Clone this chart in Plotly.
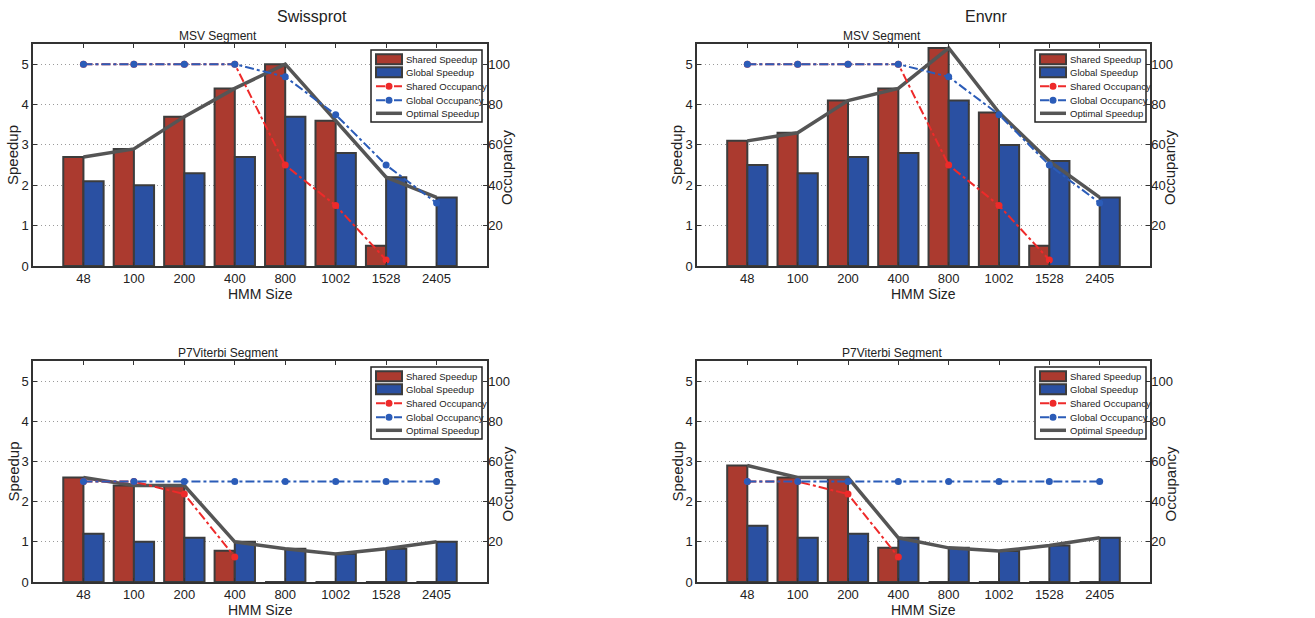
import plotly.graph_objects as go

hmm_sizes = ["48", "100", "200", "400", "800", "1002", "1528", "2405"]

# Swissprot - MSV Segment
sw_msv_shared = [2.7, 2.9, 3.7, 4.4, 5.0, 3.6, 0.5, None]
sw_msv_global = [2.1, 2.0, 2.3, 2.7, 3.7, 2.8, 2.2, 1.7]
sw_msv_optimal = [2.7, 2.9, 3.7, 4.4, 5.0, 3.6, 2.2, 1.7]
sw_msv_shared_occ = [100, 100, 100, 100, 50, 30, 3, None]
sw_msv_global_occ = [100, 100, 100, 100, 93.75, 75, 50, 31.25]

# Envnr - MSV Segment
en_msv_shared = [3.1, 3.3, 4.1, 4.4, 5.4, 3.8, 0.5, None]
en_msv_global = [2.5, 2.3, 2.7, 2.8, 4.1, 3.0, 2.6, 1.7]
en_msv_optimal = [3.1, 3.3, 4.1, 4.4, 5.4, 3.8, 2.6, 1.7]
en_msv_shared_occ = [100, 100, 100, 100, 50, 30, 3, None]
en_msv_global_occ = [100, 100, 100, 100, 93.75, 75, 50, 31.25]

# Swissprot - P7Viterbi Segment
sw_vit_shared = [2.6, 2.4, 2.4, 0.78, 0, 0, 0, 0]
sw_vit_global = [1.2, 1.0, 1.1, 1.0, 0.83, 0.7, 0.83, 1.0]
sw_vit_optimal = [2.6, 2.4, 2.4, 1.0, 0.83, 0.7, 0.83, 1.0]
sw_vit_shared_occ = [50, 50, 43.75, 12.5, None, None, None, None]
sw_vit_global_occ = [50, 50, 50, 50, 50, 50, 50, 50]

# Envnr - P7Viterbi Segment
en_vit_shared = [2.9, 2.6, 2.6, 0.85, 0, 0, 0, 0]
en_vit_global = [1.4, 1.1, 1.2, 1.1, 0.85, 0.77, 0.91, 1.1]
en_vit_optimal = [2.9, 2.6, 2.6, 1.1, 0.85, 0.77, 0.91, 1.1]
en_vit_shared_occ = [50, 50, 43.75, 12.5, None, None, None, None]
en_vit_global_occ = [50, 50, 50, 50, 50, 50, 50, 50]

speedup_ticks = [0, 1, 2, 3, 4, 5]
occupancy_ticks = [20, 40, 60, 80, 100]
legend_labels = ["Shared Speedup", "Global Speedup", "Shared Occupancy",
                 "Global Occupancy", "Optimal Speedup"]

W, H = 1315, 618
FONT = "Liberation Sans, Arial, sans-serif"

RED_BAR = "#AB3A2F"
BLUE_BAR = "#2A50A2"
OUTLINE = "#3c3c3c"
RED_LINE = "#EE2A2A"
BLUE_LINE = "#2B5CB8"
OPT = "#555555"
AX = "#333333"


def px(x):
    return x / W


def py(y):
    return 1 - y / H


panels = [
    dict(shared=sw_msv_shared, glob=sw_msv_global, opt=sw_msv_optimal,
         socc=sw_msv_shared_occ, gocc=sw_msv_global_occ,
         xd=(33, 487), yd=(44, 266), title="MSV Segment", tx=218, ty=36),
    dict(shared=en_msv_shared, glob=en_msv_global, opt=en_msv_optimal,
         socc=en_msv_shared_occ, gocc=en_msv_global_occ,
         xd=(697, 1150), yd=(44, 266), title="MSV Segment", tx=882, ty=36),
    dict(shared=sw_vit_shared, glob=sw_vit_global, opt=sw_vit_optimal,
         socc=sw_vit_shared_occ, gocc=sw_vit_global_occ,
         xd=(33, 487), yd=(361, 582), title="P7Viterbi Segment", tx=228, ty=353),
    dict(shared=en_vit_shared, glob=en_vit_global, opt=en_vit_optimal,
         socc=en_vit_shared_occ, gocc=en_vit_global_occ,
         xd=(697, 1150), yd=(361, 582), title="P7Viterbi Segment", tx=892, ty=353),
]

fig = go.Figure()
layout = dict(
    template="none",
    width=W, height=H,
    margin=dict(l=0, r=0, t=0, b=0, autoexpand=False),
    paper_bgcolor="white", plot_bgcolor="white",
    barmode="group", bargap=0.2, bargroupgap=0.0,
    showlegend=False,
    font=dict(family=FONT, size=13, color="#222"),
)
shapes = []
annotations = []


def ann(text, x, y, size, angle=0, xref="paper", yref="paper", xanchor="center",
        family=FONT):
    return dict(text=text, x=x, y=y, xref=xref, yref=yref, showarrow=False,
                xanchor=xanchor, yanchor="middle", textangle=angle,
                font=dict(family=family, size=size, color="#222"))


for i, p in enumerate(panels):
    k = i + 1
    xa = "x" if k == 1 else f"x{k}"
    yl = 2 * k - 1
    yr = 2 * k
    yla = "y" if yl == 1 else f"y{yl}"
    yra = f"y{yr}"
    xkey = "xaxis" if k == 1 else f"xaxis{k}"
    ylkey = "yaxis" if yl == 1 else f"yaxis{yl}"
    yrkey = f"yaxis{yr}"

    fig.add_trace(go.Bar(x=hmm_sizes, y=p["shared"], xaxis=xa, yaxis=yla,
                         marker=dict(color=RED_BAR, line=dict(color=OUTLINE, width=2)),
                         name=legend_labels[0]))
    fig.add_trace(go.Bar(x=hmm_sizes, y=p["glob"], xaxis=xa, yaxis=yla,
                         marker=dict(color=BLUE_BAR, line=dict(color=OUTLINE, width=2)),
                         name=legend_labels[1]))
    fig.add_trace(go.Scatter(x=hmm_sizes, y=p["opt"], xaxis=xa, yaxis=yla, mode="lines",
                             line=dict(color=OPT, width=3.5), name=legend_labels[4]))
    fig.add_trace(go.Scatter(x=hmm_sizes, y=p["socc"], xaxis=xa, yaxis=yra,
                             mode="lines+markers",
                             line=dict(color=RED_LINE, width=2, dash="dashdot"),
                             marker=dict(color=RED_LINE, size=7),
                             name=legend_labels[2]))
    fig.add_trace(go.Scatter(x=hmm_sizes, y=p["gocc"], xaxis=xa, yaxis=yra,
                             mode="lines+markers",
                             line=dict(color=BLUE_LINE, width=2, dash="dashdot"),
                             marker=dict(color=BLUE_LINE, size=7),
                             name=legend_labels[3]))

    xd = [px(p["xd"][0]), px(p["xd"][1])]
    yd = [py(p["yd"][1]), py(p["yd"][0])]
    layout[xkey] = dict(domain=xd, anchor=yla, type="category", automargin=False,
                        categoryorder="array", categoryarray=hmm_sizes,
                        range=[-1, len(hmm_sizes)],
                        showline=True, linecolor=AX, linewidth=1.5, mirror="ticks",
                        ticks="inside", ticklen=4, tickcolor=AX, tickwidth=1,
                        showgrid=False, zeroline=False,
                        tickfont=dict(size=13, color="#222"))
    layout[ylkey] = dict(domain=yd, anchor=xa, range=[0, 5.5], tickvals=speedup_ticks,
                         automargin=False,
                         showline=True, linecolor=AX, linewidth=1.5,
                         ticks="inside", ticklen=4, tickcolor=AX,
                         showgrid=True, gridcolor="#9a9a9a", griddash="1px,3px",
                         gridwidth=1,
                         zeroline=False, tickfont=dict(size=13, color="#222"))
    layout[yrkey] = dict(overlaying=yla, anchor=xa, side="right", range=[0, 110],
                         tickvals=occupancy_ticks, automargin=False,
                         showline=True, linecolor=AX, linewidth=1.5,
                         ticks="inside", ticklen=4, tickcolor=AX,
                         ticklabelstandoff=-3,
                         showgrid=False, zeroline=False,
                         tickfont=dict(size=13, color="#222"))

    # axis titles and panel title
    x0, x1 = p["xd"]
    y0, y1 = p["yd"]
    annotations.append(ann(p["title"], px(p["tx"]), py(p["ty"]), 12))
    annotations.append(ann("HMM Size", px((x0 + x1) / 2), py(y1 + 28), 14))
    annotations.append(ann("Speedup", px(x0 - 20), py((y0 + y1) / 2), 15, angle=-90))
    annotations.append(ann("Occupancy", px(x1 + 20), py((y0 + y1) / 2 + 12), 15, angle=-90))

    # legend box (drawn in the axes' domain coordinates)
    xr = f"{xa} domain"
    yr_ = f"{yla} domain"
    pw = x1 - x0
    ph = y1 - y0

    def dx(v):
        return v / pw

    def dy(v):
        return 1 - v / ph

    shapes.append(dict(type="rect", xref=xr, yref=yr_, x0=dx(338), x1=dx(449),
                       y0=dy(78), y1=dy(6), fillcolor="white",
                       line=dict(color="#222", width=1.5), layer="above"))
    rows = [15.3, 28.3, 42.3, 56.3, 69.3]
    sx0, sx1 = dx(343), dx(369)
    for j, lab in enumerate(legend_labels):
        ry = rows[j]
        if j < 2:
            shapes.append(dict(type="rect", xref=xr, yref=yr_, x0=sx0, x1=sx1,
                               y0=dy(ry + 5), y1=dy(ry - 5),
                               fillcolor=RED_BAR if j == 0 else BLUE_BAR,
                               line=dict(color=OUTLINE, width=2), layer="above"))
        elif j < 4:
            c = RED_LINE if j == 2 else BLUE_LINE
            shapes.append(dict(type="line", xref=xr, yref=yr_, x0=sx0, x1=sx1,
                               y0=dy(ry), y1=dy(ry),
                               line=dict(color=c, width=2, dash="dashdot"), layer="above"))
            shapes.append(dict(type="circle", xref=xr, yref=yr_, x0=dx(352.5), x1=dx(359.5),
                               y0=dy(ry + 3.5), y1=dy(ry - 3.5), fillcolor=c,
                               line=dict(color=c, width=0), layer="above"))
        else:
            shapes.append(dict(type="line", xref=xr, yref=yr_, x0=sx0, x1=sx1,
                               y0=dy(ry), y1=dy(ry),
                               line=dict(color=OPT, width=3.5), layer="above"))
        annotations.append(ann(lab, dx(371), dy(ry), 9.5, xref=xr, yref=yr_,
                               xanchor="left"))

annotations.append(ann("Swissprot", px(312), py(16), 16))
annotations.append(ann("Envnr", px(986), py(16), 16))

layout["shapes"] = shapes
layout["annotations"] = annotations
fig.update_layout(**layout)

fig.write_html("out.html", config={"displayModeBar": False},
               post_script="document.body.style.margin='0';document.body.style.overflow='hidden';")
